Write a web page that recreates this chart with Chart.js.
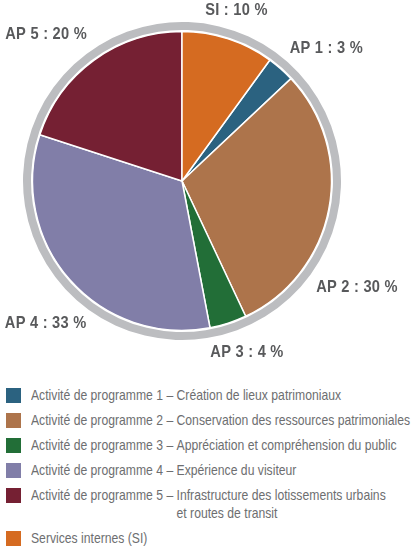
<!DOCTYPE html>
<html>
<head>
<meta charset="utf-8">
<script src="https://cdn.jsdelivr.net/npm/chart.js@4.4.0/dist/chart.umd.min.js"></script>
<style>
  html, body { margin: 0; padding: 0; background: #fff; }
  body { width: 414px; height: 551px; position: relative; overflow: hidden; }
  #wrap { position: absolute; left: 0; top: 0; width: 414px; height: 370px; }
  #legend { position: absolute; left: 6px; top: 386px; width: 600px;
    font-family: "Liberation Sans", Arial, sans-serif;
    font-size: 15px; color: #6d6e70; line-height: 18px; }
  .item { display: flex; align-items: flex-start; margin-bottom: 7px; }
  .sw { width: 15px; height: 15px; flex: none; margin-top: 1.5px; margin-right: 10px; }
  .txt { display: flex; white-space: nowrap; transform: scaleX(0.812); transform-origin: 0 0; }
  .pre { white-space: pre; }
</style>
</head>
<body>
<div id="wrap"><canvas id="pie"></canvas></div>
<div id="legend"></div>
<script>
// Répartition des dépenses par activité de programme (%)
const labels = ['AP 1', 'AP 2', 'AP 3', 'AP 4', 'AP 5', 'SI'];
const values = [3, 30, 4, 33, 20, 10];
const colors = ['#2b6280', '#ad744b', '#226e37', '#817ea8', '#752033', '#d56b21'];
const legendPrefix = [
  'Activité de programme 1 – ',
  'Activité de programme 2 – ',
  'Activité de programme 3 – ',
  'Activité de programme 4 – ',
  'Activité de programme 5 – ',
  ''
];
const legendText = [
  'Création de lieux patrimoniaux',
  'Conservation des ressources patrimoniales',
  'Appréciation et compréhension du public',
  'Expérience du visiteur',
  'Infrastructure des lotissements urbains<br>et routes de transit',
  'Services internes (SI)'
];

// Légende HTML
const legend = document.getElementById('legend');
labels.forEach((l, i) => {
  const row = document.createElement('div');
  row.className = 'item';
  row.innerHTML = '<span class="sw" style="background:' + colors[i] + '"></span>' +
    '<div class="txt">' +
    (legendPrefix[i] ? '<span class="pre">' + legendPrefix[i] + '</span>' : '') +
    '<span>' + legendText[i] + '</span></div>';
  legend.appendChild(row);
});

// Étiquettes autour du cercle (angle en degrés depuis le haut, distance du centre)
const labelSpots = [
  { a: 47.4, d: 196 },
  { a: 121.4, d: 205 },
  { a: 159.2, d: 183 },
  { a: 223.8, d: 197 },
  { a: 317.2, d: 200 },
  { a: 17.7, d: 179 }
];

const outsideLabels = {
  id: 'outsideLabels',
  afterDraw(chart) {
    const meta = chart.getDatasetMeta(2);
    const ctx = chart.ctx;
    meta.data.forEach((arc, i) => {
      const s = labelSpots[i];
      const rad = s.a * Math.PI / 180;
      const x = arc.x + Math.sin(rad) * s.d;
      const y = arc.y - Math.cos(rad) * s.d;
      ctx.save();
      ctx.font = 'bold 17px "Liberation Sans", Arial, sans-serif';
      ctx.letterSpacing = '0.3px';
      ctx.fillStyle = '#58595b';
      ctx.textAlign = 'center';
      ctx.textBaseline = 'middle';
      ctx.translate(x, y);
      ctx.scale(0.86, 1);
      ctx.fillText(labels[i] + ' : ' + values[i] + ' %', 0, 0);
      ctx.restore();
    });
  }
};

new Chart(document.getElementById('pie'), {
  type: 'pie',
  data: {
    labels: labels,
    datasets: [
      { data: [100], backgroundColor: '#bcbdc0', borderWidth: 0, weight: 8 },
      { data: [100], backgroundColor: '#ffffff', borderWidth: 0, weight: 1.5 },
      { data: values, backgroundColor: colors, borderColor: '#ffffff', borderWidth: 1.5, weight: 149.5 }
    ]
  },
  options: {
    responsive: true,
    maintainAspectRatio: false,
    animation: false,
    rotation: 36,
    layout: { padding: { left: 23, right: 73, top: 22, bottom: 30 } },
    plugins: {
      legend: { display: false },
      tooltip: { enabled: false }
    }
  },
  plugins: [outsideLabels]
});
</script>
</body>
</html>
